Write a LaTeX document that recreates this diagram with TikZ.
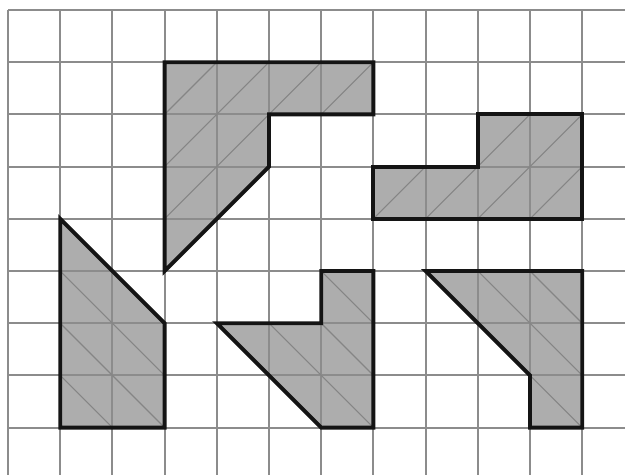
\documentclass[tikz,border=0pt]{standalone}
\begin{document}
\begin{tikzpicture}[x=1cm,y=1cm,
  gridline/.style={draw=gray!90!white, line width=1.05pt},
  shapefill/.style={fill=black!32},
  hatchline/.style={draw=black!48, line width=0.6pt},
  outline/.style={draw=black!92, line width=2.1pt, line join=miter}]
\useasboundingbox[fill=white] (-0.1533,0.1916) rectangle (11.820,-8.908);
% shapes
\def\shA{(3,-1) -- (7,-1) -- (7,-2) -- (5,-2) -- (5,-3) -- (3,-5) -- cycle}
\def\shB{(7,-3) -- (9,-3) -- (9,-2) -- (11,-2) -- (11,-4) -- (7,-4) -- cycle}
\def\shC{(1,-4) -- (3,-6) -- (3,-8) -- (1,-8) -- cycle}
\def\shD{(4,-6) -- (6,-6) -- (6,-5) -- (7,-5) -- (7,-8) -- (6,-8) -- cycle}
\def\shE{(8,-5) -- (11,-5) -- (11,-8) -- (10,-8) -- (10,-7) -- cycle}
\foreach \s in {\shA,\shB,\shC,\shD,\shE} {\path[shapefill] \s;}
% grid
\foreach \i in {0,...,11} {\draw[gridline] (\i,0) -- (\i,-8.908);}
\foreach \j in {0,...,8} {\draw[gridline] (0,-\j) -- (11.820,-\j);}
% hatching "/"
\foreach \s in {\shA,\shB} {
  \begin{scope}
    \clip \s;
    \foreach \k in {-12,...,14} {\draw[hatchline] (\k-12,-12) -- (\k+12,12);}
  \end{scope}
}
% hatching "\"
\foreach \s in {\shC,\shD,\shE} {
  \begin{scope}
    \clip \s;
    \foreach \k in {-12,...,14} {\draw[hatchline] (\k-12,12) -- (\k+12,-12);}
  \end{scope}
}
% outlines
\foreach \s in {\shA,\shB,\shC,\shD,\shE} {\draw[outline] \s;}
\end{tikzpicture}
\end{document}
